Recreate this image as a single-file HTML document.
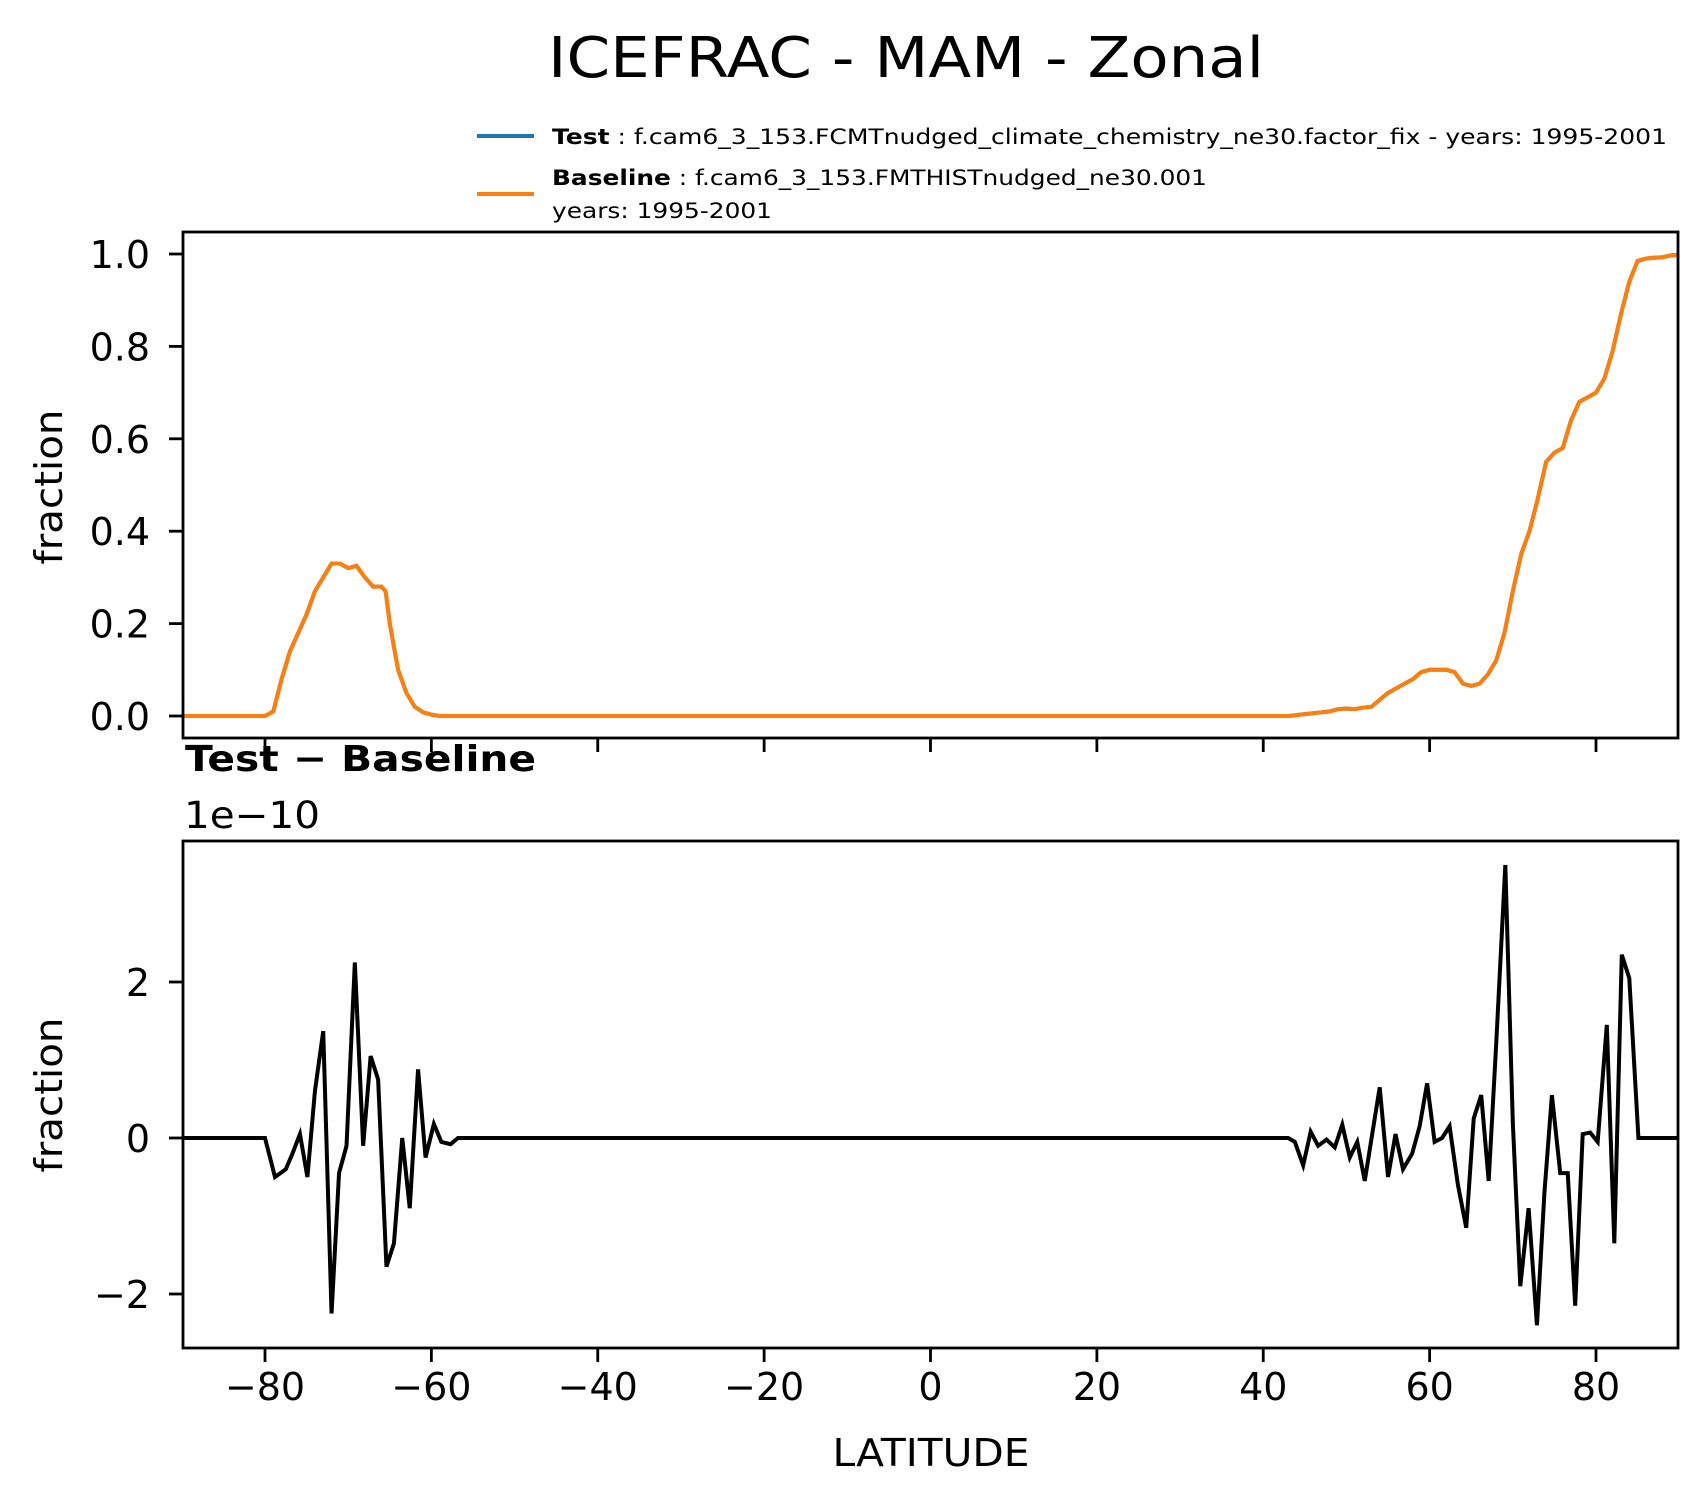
<!DOCTYPE html>
<html><head><meta charset="utf-8"><style>
body{margin:0;background:#fff}
svg{display:block;font-family:"DejaVu Sans","Liberation Sans",sans-serif}
</style></head><body>
<svg id="chart" width="1700" height="1496" viewBox="0 0 1700 1496" xmlns="http://www.w3.org/2000/svg">
<rect width="1700" height="1496" fill="#fff"/>
<text x="906" y="77" font-size="56" text-anchor="middle" textLength="716" lengthAdjust="spacingAndGlyphs">ICEFRAC - MAM - Zonal</text>
<g>
<line x1="477" y1="136" x2="534" y2="136" stroke="#1f77b4" stroke-width="4"/>
<text x="552" y="144" font-size="21" textLength="1115" lengthAdjust="spacingAndGlyphs"><tspan font-weight="bold">Test</tspan> : f.cam6_3_153.FCMTnudged_climate_chemistry_ne30.factor_fix - years: 1995-2001</text>
<line x1="477" y1="194" x2="534" y2="194" stroke="#ff7f0e" stroke-width="4"/>
<text x="552" y="185" font-size="21" textLength="655" lengthAdjust="spacingAndGlyphs"><tspan font-weight="bold">Baseline</tspan> : f.cam6_3_153.FMTHISTnudged_ne30.001</text>
<text x="552" y="218" font-size="21" textLength="220" lengthAdjust="spacingAndGlyphs">years: 1995-2001</text>
</g>
<g id="top"></g>
<g id="bot"></g>
<text x="185" y="771" font-size="36" font-weight="bold" textLength="351" lengthAdjust="spacingAndGlyphs">Test − Baseline</text>
<text x="184" y="828" font-size="37" textLength="136" lengthAdjust="spacingAndGlyphs">1e−10</text>
<text x="931" y="1466" font-size="38" text-anchor="middle" textLength="197" lengthAdjust="spacingAndGlyphs">LATITUDE</text>
<text transform="translate(62,487) rotate(-90)" font-size="38" text-anchor="middle" textLength="155" lengthAdjust="spacingAndGlyphs">fraction</text>
<text transform="translate(62,1095) rotate(-90)" font-size="38" text-anchor="middle" textLength="155" lengthAdjust="spacingAndGlyphs">fraction</text>
</svg>
<script>
const topLat=[-90,-85,-80,-79,-78,-77,-76,-75,-74,-73,-72,-71,-70,-69,-68,-67,-66,-65.5,-65,-64,-63,-62,-61,-60,-59,-50,0,43,44,45,46,47,48,49,50,51,52,53,54,55,56,57,58,59,60,61,62,63,64,65,66,67,68,69,70,71,72,73,74,75,76,77,78,79,80,81,82,83,84,85,86,87,88,89,90];
const topVal=[0,0,0,0.01,0.08,0.14,0.18,0.22,0.27,0.30,0.33,0.33,0.32,0.325,0.30,0.28,0.28,0.27,0.2,0.1,0.05,0.02,0.008,0.003,0,0,0,0,0.002,0.004,0.006,0.008,0.01,0.015,0.016,0.015,0.018,0.02,0.035,0.05,0.06,0.07,0.08,0.095,0.1,0.1,0.1,0.095,0.07,0.065,0.07,0.09,0.12,0.18,0.27,0.35,0.40,0.47,0.55,0.57,0.58,0.64,0.68,0.69,0.70,0.73,0.79,0.87,0.94,0.985,0.99,0.992,0.993,0.997,0.998];
const diffLat=[-90,-80,-78.8,-77.5,-76.7,-75.8,-74.9,-74,-73,-72,-71.1,-70.2,-69.2,-68.2,-67.3,-66.4,-65.4,-64.5,-63.5,-62.6,-61.6,-60.7,-59.7,-58.8,-57.7,-56.8,0,43,43.8,44.8,45.7,46.6,47.6,48.6,49.5,50.4,51.3,52.2,53.1,54,55,55.9,56.8,57.9,58.8,59.7,60.6,61.5,62.4,63.4,64.4,65.3,66.2,67.1,68,69.1,70,70.9,71.9,72.9,73.8,74.7,75.7,76.6,77.5,78.4,79.3,80.2,81.3,82.2,83.1,84,85.1,90];
const diffVal=[0,0,-0.5,-0.4,-0.2,0.05,-0.5,0.6,1.37,-2.25,-0.45,-0.1,2.25,-0.1,1.05,0.75,-1.65,-1.35,0,-0.9,0.88,-0.25,0.18,-0.05,-0.08,0,0,0,-0.05,-0.35,0.08,-0.1,-0.02,-0.12,0.17,-0.25,-0.05,-0.55,0.05,0.65,-0.5,0.05,-0.4,-0.2,0.15,0.7,-0.05,0,0.15,-0.6,-1.15,0.25,0.55,-0.55,1.2,3.5,0.2,-1.9,-0.9,-2.4,-0.7,0.55,-0.45,-0.45,-2.15,0.05,0.07,-0.05,1.45,-1.35,2.35,2.05,0,0];
const xTicks=[-80,-60,-40,-20,0,20,40,60,80];
const topTicks=[0,0.2,0.4,0.6,0.8,1.0];
const botTicks=[-2,0,2];
const L=183,R=1678,T1=232,B1=738,T2=841,B2=1348;
const xs=v=>265+(v+80)*(1596-265)/160;
const y1=v=>716-v*(716-254);
const y2=v=>1138-v*78;
const NS="http://www.w3.org/2000/svg";
function mk(p,tag,a){const e=document.createElementNS(NS,tag);for(const k in a)e.setAttribute(k,a[k]);p.appendChild(e);return e;}
const gt=document.getElementById('top'),gb=document.getElementById('bot');
const pathT=mk(gt,'path',{d:topLat.map((v,i)=>(i?'L':'M')+xs(v)+','+y1(topVal[i])).join(''),fill:'none',stroke:'#1f77b4','stroke-width':4});


const pathB=mk(gt,'path',{d:topLat.map((v,i)=>(i?'L':'M')+xs(v)+','+y1(topVal[i])).join(''),fill:'none',stroke:'#ff7f0e','stroke-width':4});


const pathD=mk(gb,'path',{d:diffLat.map((v,i)=>(i?'L':'M')+xs(v)+','+y2(diffVal[i])).join(''),fill:'none',stroke:'#000','stroke-width':4});


const f1=mk(gt,'rect',{x:L,y:T1,width:R-L,height:B1-T1,fill:'none',stroke:'#000','stroke-width':2.8});


const f2=mk(gb,'rect',{x:L,y:T2,width:R-L,height:B2-T2,fill:'none',stroke:'#000','stroke-width':2.8});


xTicks.forEach(v=>{
  const t1=mk(gt,'line',{x1:xs(v),x2:xs(v),y1:B1,y2:B1+14,stroke:'#000','stroke-width':2.8});
  
  
  const t2=mk(gb,'line',{x1:xs(v),x2:xs(v),y1:B2,y2:B2+14,stroke:'#000','stroke-width':2.8});
  
  
  const tx=mk(gb,'text',{x:xs(v),y:1400,'font-size':38,'text-anchor':'middle'});
  tx.textContent=(v<0?'−':'')+Math.abs(v);
  
  
});
topTicks.forEach(v=>{
  const t=mk(gt,'line',{x1:L-14,x2:L,y1:y1(v),y2:y1(v),stroke:'#000','stroke-width':2.8});
  
  
  const tx=mk(gt,'text',{x:L-33,y:y1(v)+14,'font-size':38,'text-anchor':'end'});
  tx.textContent=v.toFixed(1);
  
  
});
botTicks.forEach(v=>{
  const t=mk(gb,'line',{x1:L-14,x2:L,y1:y2(v),y2:y2(v),stroke:'#000','stroke-width':2.8});
  
  
  const tx=mk(gb,'text',{x:L-33,y:y2(v)+14,'font-size':38,'text-anchor':'end'});
  tx.textContent=(v<0?'−':'')+Math.abs(v);
  
  
});
</script>
</body></html>
